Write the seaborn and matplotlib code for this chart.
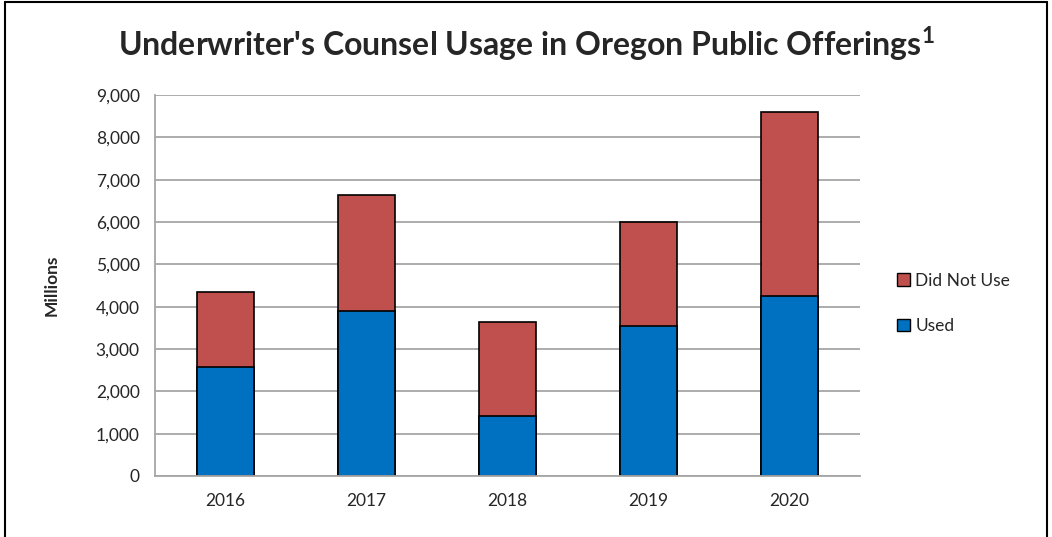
import seaborn as sns
import pandas as pd
import matplotlib.pyplot as plt
from matplotlib.patches import Patch
from matplotlib.ticker import FuncFormatter, FixedLocator

# ========= 数据 =========
years = ["2016", "2017", "2018", "2019", "2020"]
used = [2575, 3900, 1420, 3550, 4250]
did_not_use = [1775, 2750, 2220, 2440, 4350]
# ========================

df = pd.DataFrame({"year": years, "used": used, "did_not_use": did_not_use})
df["total"] = df["used"] + df["did_not_use"]

sns.set_style("white")
plt.rcParams["font.family"] = ["Lato", "DejaVu Sans"]
plt.rcParams["mathtext.fontset"] = "custom"
plt.rcParams["mathtext.rm"] = "Lato"
plt.rcParams["mathtext.bf"] = "Lato:bold"

red = "#C0504D"
blue = "#0070C0"
grid_c = "#A6A6A6"

fig = plt.figure(figsize=(10.52, 5.37), dpi=100)
ax = fig.add_axes([0.1473, 0.1136, 0.6702, 0.7094])

sns.barplot(data=df, x="year", y="total", color=red, width=0.4,
            edgecolor="black", linewidth=1.2, saturation=1, ax=ax)
sns.barplot(data=df, x="year", y="used", color=blue, width=0.4,
            edgecolor="black", linewidth=1.2, saturation=1, ax=ax)

ax.set_ylim(0, 9000)
ax.set_xlim(-0.5, 4.5)
ax.set_yticks(range(0, 9001, 1000))
ax.yaxis.set_major_formatter(FuncFormatter(lambda v, p: f"{int(v):,}"))
ax.grid(axis="y", color=grid_c, linewidth=1.3)
ax.set_axisbelow(True)

for s in ["top", "right"]:
    ax.spines[s].set_visible(False)
ax.spines["left"].set_color(grid_c)
ax.spines["bottom"].set_color(grid_c)
ax.spines["left"].set_linewidth(1.3)
ax.spines["bottom"].set_linewidth(1.3)

ax.tick_params(axis="y", which="major", length=5, color=grid_c, width=1.3,
               labelsize=12.5, pad=6)
ax.tick_params(axis="x", which="major", length=0, labelsize=12.5, pad=12)
ax.xaxis.set_minor_locator(FixedLocator([-0.5, 0.5, 1.5, 2.5, 3.5, 4.5]))
ax.tick_params(axis="x", which="minor", length=6, color=grid_c, width=1.3)

ax.set_xlabel("")
ax.set_ylabel("Millions", fontsize=12.5, fontweight="bold", labelpad=26)

fig.text(0.5, 0.918, r"Underwriter's Counsel Usage in Oregon Public Offerings$^{\mathbf{1}}$",
         ha="center", va="center", fontsize=23, fontweight="bold")

handles = [Patch(facecolor=red, edgecolor="black", label="Did Not Use"),
           Patch(facecolor=blue, edgecolor="black", label="Used")]
fig.legend(handles=handles, loc="center left", bbox_to_anchor=(0.838, 0.435),
           frameon=False, fontsize=12.5, handlelength=0.75, handleheight=0.75,
           handletextpad=0.3, labelspacing=1.7)

# outer frame
fig.add_artist(plt.Line2D([0.005, 0.995], [0.996, 0.996], color="black", lw=1.5,
                          transform=fig.transFigure))
fig.add_artist(plt.Line2D([0.005, 0.005], [0.0, 0.996], color="black", lw=1.5,
                          transform=fig.transFigure))
fig.add_artist(plt.Line2D([0.995, 0.995], [0.0, 0.996], color="black", lw=1.5,
                          transform=fig.transFigure))

fig.savefig("out.png", dpi=100)
